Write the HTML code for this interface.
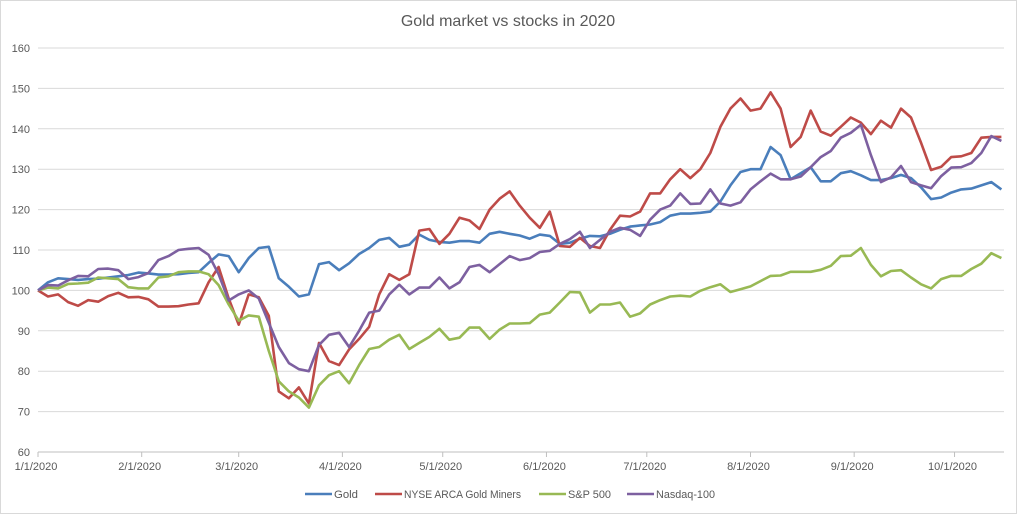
<!DOCTYPE html>
<html><head><meta charset="utf-8"><style>
html,body{margin:0;padding:0;background:#fff;}
svg{display:block;font-family:"Liberation Sans",sans-serif;}
</style></head><body>
<svg id="chart" width="1017" height="514" viewBox="0 0 1017 514">
<rect x="0.5" y="0.5" width="1016" height="513" fill="#fff" stroke="#d9d9d9"/>
<text x="508" y="26" text-anchor="middle" font-size="16" fill="#595959">Gold market vs stocks in 2020</text>
<g id="grid"></g>
<g id="yaxis"></g>
<g id="xaxis"></g>
<g id="series"></g>
<g id="legend"></g>
</svg>
<script>
const days=[];for(let i=0;i<97;i++)days.push(i*3);
const gold=[100,102,103,102.8,102.6,102.8,102.9,103.2,103.5,103.8,
104.4,104.2,103.9,103.9,104,104.3,104.5,106.8,108.9,108.5,
104.5,108,110.5,110.8,103,100.9,98.5,99,106.5,107,
105,106.7,109,110.5,112.5,113,110.8,111.3,113.8,112.5,
112,111.8,112.2,112.2,111.8,114,114.5,114,113.6,112.8,
113.8,113.5,111.5,111.8,112.8,113.5,113.4,114,115,115.8,
116.1,116.3,116.9,118.5,119,119,119.2,119.5,122,126,
129.3,130,130,135.5,133.5,127.5,129,130.5,127,127,
129,129.5,128.5,127.3,127.3,127.8,128.6,127.8,125.5,122.6,
123,124.2,125,125.2,126,126.8,125];
const miners=[100,98.5,99,97.1,96.2,97.6,97.2,98.6,99.4,98.3,
98.4,97.8,96,96,96.1,96.5,96.8,102,105.8,98,
91.5,99,98.3,93.7,75,73.3,76,72,87,82.5,
81.5,85.4,88,91,99,104,102.6,104,114.8,115.2,
111.5,114,118,117.3,115.2,120,122.7,124.5,121,118,
115.5,119.5,111,110.8,113,111,110.5,115,118.5,118.3,
119.5,124,124,127.5,130,127.8,130,134,140.5,145,
147.5,144.5,145,149,145,135.5,138,144.5,139.3,138.3,
140.5,142.8,141.5,138.7,142,140.3,145,142.8,136.5,129.8,
130.6,133,133.2,134,137.8,138,138];
const sp500=[100,100.7,100.5,101.6,101.7,101.9,103.2,103,102.8,100.8,
100.5,100.5,103.2,103.5,104.5,104.7,104.7,104,101.3,96.5,
92.5,93.8,93.5,85,77.5,75,73.5,71,76.5,79,
80,77,81.5,85.5,86,87.8,89,85.5,87,88.5,
90.5,87.8,88.3,90.8,90.8,88,90.3,91.8,91.8,91.9,
94,94.5,97,99.6,99.5,94.5,96.5,96.5,97,93.5,
94.3,96.5,97.6,98.5,98.7,98.5,99.9,100.8,101.5,99.6,
100.3,101,102.3,103.6,103.7,104.6,104.6,104.6,105.1,106.1,
108.5,108.6,110.5,106.3,103.5,104.8,105,103.2,101.5,100.5,
102.8,103.6,103.6,105.3,106.6,109.2,108];
const nasdaq=[100,101.3,101.2,102.5,103.6,103.5,105.3,105.4,105,102.8,
103.3,104.3,107.5,108.5,110,110.3,110.5,108.8,104,97.5,
99,100,98,92,86,82,80.5,80,86.5,89,
89.5,86,90,94.5,95,99,101.4,99,100.7,100.7,
103.2,100.5,102,105.8,106.3,104.5,106.5,108.5,107.5,108,
109.5,109.8,111.5,112.7,114.5,110.5,112.5,114.5,115.5,115,
113.5,117.5,120,121,124,121.4,121.5,125,121.5,121,
121.8,125,127,128.9,127.5,127.5,128.2,130.5,133,134.5,
137.8,139,141,133.5,126.8,128,130.8,126.8,126,125.3,
128.3,130.4,130.5,131.5,134,138.2,137];
const seriesNames=["Gold","NYSE ARCA Gold Miners","S&P 500","Nasdaq-100"];
const yTicks=[60,70,80,90,100,110,120,130,140,150,160];
const xTickLabels=["1/1/2020","2/1/2020","3/1/2020","4/1/2020","5/1/2020","6/1/2020","7/1/2020","8/1/2020","9/1/2020","10/1/2020"];
const xTickDays=[0,31,60,91,121,152,182,213,244,274];

const NS="http://www.w3.org/2000/svg";
const X0=38,XR=1004,PX=3.345;
function xs(d){return X0+d*PX;}
function ys(v){return 452-(v-60)*4.04;}
function mk(tag,attrs,parent){const e=document.createElementNS(NS,tag);for(const k in attrs)e.setAttribute(k,attrs[k]);parent.appendChild(e);return e;}
const grid=document.getElementById('grid'),ya=document.getElementById('yaxis'),xa=document.getElementById('xaxis'),sg=document.getElementById('series'),lg=document.getElementById('legend');
yTicks.forEach(t=>{
  const l=mk('line',{x1:X0,x2:XR,y1:ys(t),y2:ys(t),stroke:t===60?'#bfbfbf':'#d9d9d9','stroke-width':1},grid);
  
  
  const tx=mk('text',{x:30,y:ys(t)+4,'text-anchor':'end','font-size':11,fill:'#595959'},ya);
  tx.textContent=t;
  
  
});
xTickDays.forEach((d,i)=>{
  const tk=mk('line',{x1:xs(d),x2:xs(d),y1:452,y2:457,stroke:'#bfbfbf'},xa);
  
  
  const tx=mk('text',{x:xs(d)-2,y:470,'text-anchor':'middle','font-size':11,fill:'#595959'},xa);
  tx.textContent=xTickLabels[i];
  
  
});
const colors=['#4A7EBB','#BE4B48','#98B954','#7D60A0'];
[gold,miners,sp500,nasdaq].forEach((vals,si)=>{
  const pts=vals.map((v,i)=>xs(days[i]).toFixed(1)+','+ys(v).toFixed(1)).join(' ');
  const p=mk('polyline',{points:pts,fill:'none',stroke:colors[si],'stroke-width':2.6,'stroke-linejoin':'round'},sg);
  
  
});
const legX=[305,375,539,627];
const legW=[24,117,43,59];
seriesNames.forEach((n,i)=>{
  const s=mk('line',{x1:legX[i],x2:legX[i]+27,y1:494,y2:494,stroke:colors[i],'stroke-width':2.6},lg);
  
  
  const t=mk('text',{x:legX[i]+29,y:498,'font-size':11,fill:'#595959',textLength:legW[i],lengthAdjust:'spacingAndGlyphs'},lg);
  t.textContent=n;
  
  
});
</script>
</body></html>
